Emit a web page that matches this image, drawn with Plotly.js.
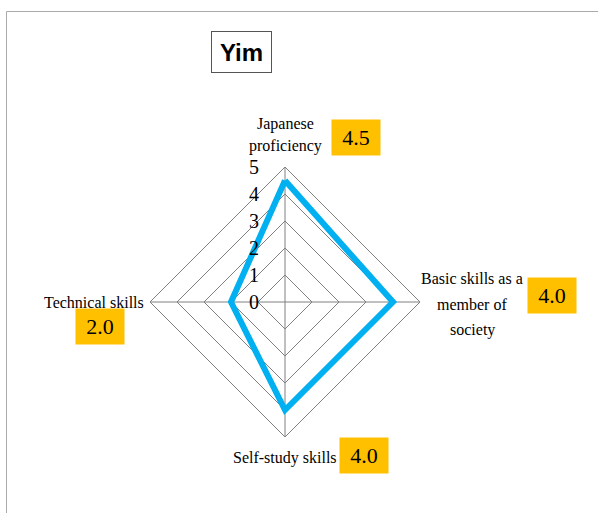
<!DOCTYPE html>
<html>
<head>
<meta charset="utf-8">
<script src="https://cdn.plot.ly/plotly-3.0.1.min.js"></script>
<style>html,body{margin:0;padding:0;background:#fff;}#chart{width:598px;height:513px;}</style>
</head>
<body>
<div id="chart"></div>
<script>
// Data
const categories = ["Japanese proficiency", "Basic skills as a member of society", "Self-study skills", "Technical skills"];
const categoryLabels = ["Japanese<br>proficiency", "Basic skills as a<br>member of<br>society", "Self-study skills", "Technical skills"];
const values = [4.5, 4.0, 4.0, 2.0];
const radialTicks = [0, 1, 2, 3, 4, 5];
const chartTitle = "Yim";

const W = 598, H = 513;
const cx = 285, cy = 302, R = 135;
const rMax = 5;
const SERIF = "Liberation Serif";

const thetaClosed = categories.concat([categories[0]]);
const rClosed = values.concat([values[0]]);

const trace = {
  type: 'scatterpolar',
  mode: 'lines',
  r: rClosed,
  theta: thetaClosed,
  line: {color: '#00B0F0', width: 6},
  hoverinfo: 'skip',
  showlegend: false
};

const annotations = [];

// radial tick labels, placed left of the vertical axis
radialTicks.forEach(t => annotations.push({
  xref: 'paper', yref: 'paper',
  x: (cx - 31) / W, y: 1 - (cy - t / rMax * R) / H,
  xanchor: 'center', yanchor: 'middle',
  text: String(t), showarrow: false,
  font: {family: SERIF, size: 20, color: '#000'}
}));

// category labels (layout positions in pixels)
const labelPos = [
  {x: 285, y: 135, xa: 'center', lh: 22},
  {x: 472, y: 304, xa: 'center', lh: 26},
  {x: 285, y: 458, xa: 'center', lh: 23},
  {x: 146, y: 302, xa: 'right', lh: 23}
];
categoryLabels.forEach((t, i) => {
  const lines = t.split('<br>');
  const n = lines.length;
  lines.forEach((ln, j) => annotations.push({
    xref: 'paper', yref: 'paper',
    x: labelPos[i].x / W,
    y: 1 - (labelPos[i].y + (j - (n - 1) / 2) * labelPos[i].lh) / H,
    xanchor: labelPos[i].xa, yanchor: 'middle',
    text: ln, showarrow: false,
    font: {family: SERIF, size: 16, color: '#000'}
  }));
});

// value label boxes (layout positions in pixels, text from data)
const boxPos = [[356, 137.5], [552, 295], [364, 455.5], [100, 326.5]];
values.forEach((v, i) => annotations.push({
  xref: 'paper', yref: 'paper',
  x: boxPos[i][0] / W, y: 1 - boxPos[i][1] / H,
  xanchor: 'center', yanchor: 'middle',
  text: v.toFixed(1),
  showarrow: false,
  bgcolor: '#FFC000',
  width: 46, height: 33,
  font: {family: SERIF, size: 22, color: '#000'}
}));
annotations.push({
  xref: 'paper', yref: 'paper',
  x: 241.5 / W, y: 1 - 52 / H,
  xanchor: 'center', yanchor: 'middle',
  text: '<b>' + chartTitle + '</b>',
  showarrow: false,
  bordercolor: '#555', borderwidth: 1,
  width: 57, height: 38,
  font: {family: 'Liberation Sans', size: 24, color: '#000'}
});

const layout = {
  width: W, height: H,
  margin: {l: 0, r: 0, t: 0, b: 0},
  paper_bgcolor: '#fff',
  showlegend: false,
  polar: {
    domain: {x: [(cx - R) / W, (cx + R) / W], y: [1 - (cy + R) / H, 1 - (cy - R) / H]},
    gridshape: 'linear',
    bgcolor: '#fff',
    radialaxis: {
      range: [0, rMax],
      tickvals: radialTicks,
      angle: 90,
      showticklabels: false,
      showline: false,
      ticks: '',
      gridcolor: '#808080',
      gridwidth: 1
    },
    angularaxis: {
      direction: 'clockwise',
      rotation: 90,
      categoryorder: 'array',
      categoryarray: categories,
      showline: true,
      showticklabels: false,
      linecolor: '#808080',
      linewidth: 1,
      gridcolor: '#808080',
      ticks: ''
    }
  },
  shapes: [
    {type: 'line', xref: 'paper', yref: 'paper', x0: 6.5 / W, x1: 6.5 / W, y0: 1 - 11.5 / H, y1: 0, line: {color: '#aaa', width: 1}},
    {type: 'line', xref: 'paper', yref: 'paper', x0: 6.5 / W, x1: 1, y0: 1 - 11.5 / H, y1: 1 - 11.5 / H, line: {color: '#aaa', width: 1}}
  ],
  annotations: annotations
};

Plotly.newPlot('chart', [trace], layout, {displayModeBar: false, staticPlot: true});
</script>
</body>
</html>
